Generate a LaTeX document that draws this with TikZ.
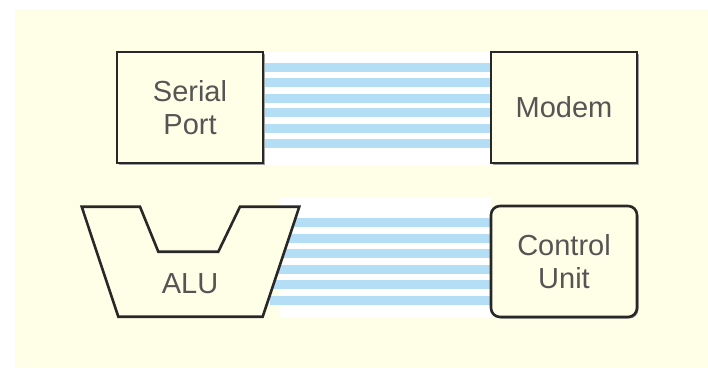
\documentclass[tikz,border=0pt]{standalone}
\usepackage{fontspec}
\setmainfont{Liberation Sans}
\usetikzlibrary{shadows}
\definecolor{cream}{RGB}{255,254,231}
\definecolor{busblue}{RGB}{180,221,246}
\definecolor{boxline}{RGB}{40,40,40}
\definecolor{txt}{RGB}{85,85,85}
\begin{document}
\begin{tikzpicture}[x=1pt,y=-1pt,
  box/.style={draw=boxline,line width=2.6pt,fill=cream,minimum width=146pt,minimum height=111pt,
    inner sep=0pt,align=center,text=txt,font=\fontsize{29}{33}\selectfont,
    drop shadow={shadow xshift=1.5pt,shadow yshift=-1.5pt,fill=gray!75,opacity=1}},
  lbl/.style={inner sep=0pt,align=center,text=txt,font=\fontsize{29}{33}\selectfont},
  stripe/.style={fill=busblue},
  alushape/.style={draw=boxline,line width=2.6pt,fill=cream,line join=miter}]
\useasboundingbox (0,0) rectangle (708,367);
\fill[white] (0,0) rectangle (708,367);
\fill[cream] (15,9) rectangle (708,367);
% top bus
\fill[white] (263,52) rectangle (491,165);
\foreach \c in {67.5,82.5,98,112.5,128.5,143.5}
  \fill[stripe] (263,\c-4.5) rectangle (491,\c+4.5);
% bottom bus
\fill[white] (280,197) rectangle (491,318);
\foreach \c in {222.5,238,253.5,269,284.5,300.5}
  \fill[stripe] (270,\c-4.5) rectangle (491,\c+4.5);
% boxes
\node[box] (sp) at (190,107.5) {Serial\\Port};
\node[box] (modem) at (564,107.5) {Modem};
\node[box,rounded corners=9pt] (cu) at (564,261.5) {Control\\Unit};
% ALU
\draw[alushape] (81.7,206.7) -- (140,206.7) -- (158.3,251.7) -- (218.3,251.7) -- (240,206.7)
  -- (299.3,206.7) -- (262.7,316.7) -- (118.3,316.7) -- cycle;
\node[lbl] (alu) at (190,284) {ALU};
\end{tikzpicture}
\end{document}
